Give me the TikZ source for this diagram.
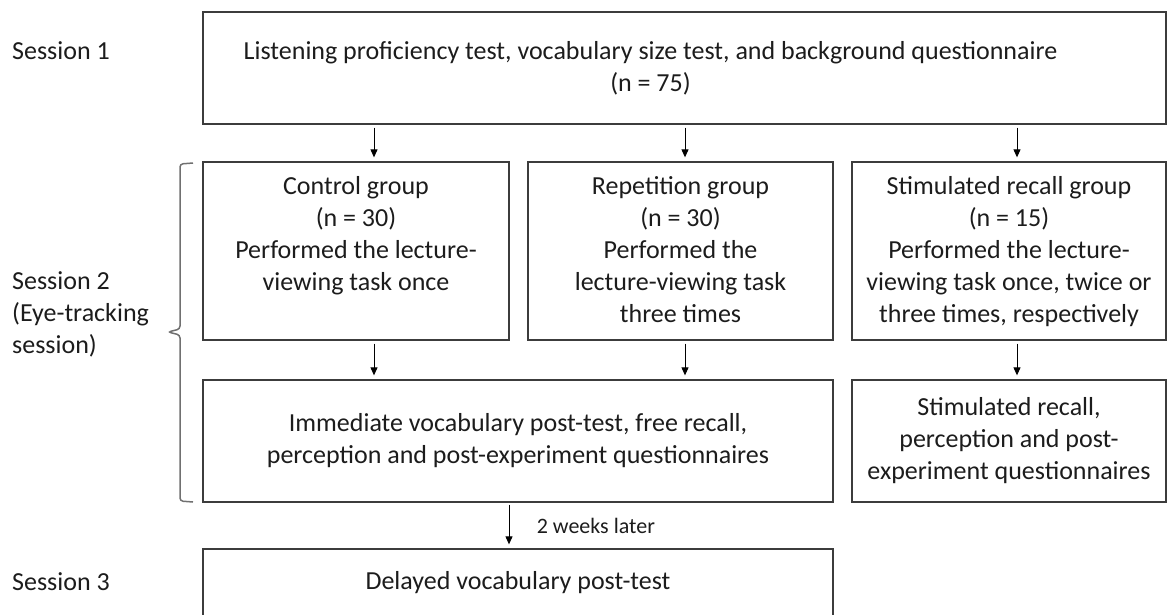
\documentclass[tikz,border=0pt]{standalone}
\usepackage{fontspec}
\setmainfont{Carlito}
\usetikzlibrary{arrows.meta,positioning}
\definecolor{textdark}{HTML}{1C1C1C}
\definecolor{boxline}{HTML}{3C3C3C}
\definecolor{braceline}{HTML}{707070}

\begin{document}
\begin{tikzpicture}[
                x=1pt, y=-1pt,
                font=\fontsize{26}{32}\selectfont,
                text=textdark,
                box/.style={draw=boxline, line width=1.3pt, inner sep=0pt, align=center},
                grouptext/.style={anchor=north, inner sep=0pt, yshift=-15pt, align=center},
                session/.style={align=left, inner sep=0pt},
                arrow/.style={-{Triangle[length=8pt, width=7pt]}, line width=1pt, shorten <=3pt, shorten >=4pt},
                bracestyle/.style={draw=braceline, line width=1.5pt, rounded corners=3pt}
            ]

            \useasboundingbox (0,0) rectangle (1168,614);

            % session labels
            \node[session, anchor=base west] (s1) at (12,59) {Session 1};
            \node[session, anchor=west] (s2) at (12,314) {Session 2\\(Eye-tracking\\session)};
            \node[session, anchor=base west] (s3) at (12,590) {Session 3};

            % boxes
            \node[box, minimum width=963pt, minimum height=112pt,
                  label={[anchor=center, inner sep=0pt, xshift=-34pt, align=center]center:{Listening proficiency test, vocabulary size test, and background questionnaire\\(n = 75)}}] (sess1) at (684.5,68) {};

            \node[box, minimum width=306pt, minimum height=178pt,
                  label={[grouptext]north:{Control group\\(n = 30)\\Performed the lecture-\\viewing task once}}] (ctrl) at (356,251) {};

            \node[box, minimum width=305pt, minimum height=178pt,
                  label={[grouptext]north:{Repetition group\\(n = 30)\\Performed the\\lecture-viewing task\\three times}}] (rep) at (680.5,251) {};

            \node[box, minimum width=314pt, minimum height=178pt,
                  label={[grouptext]north:{Stimulated recall group\\(n = 15)\\Performed the lecture-\\viewing task once, twice or\\three times, respectively}}] (stim) at (1009,251) {};

            \node[box, minimum width=630pt, minimum height=122pt] (immed) at (518,441)
                {Immediate vocabulary post-test, free recall,\\perception and post-experiment questionnaires};

            \node[box, minimum width=314pt, minimum height=122pt] (stimrec) at (1009,441)
                {Stimulated recall,\\perception and post-\\experiment questionnaires};

            \node[box, minimum width=630pt, minimum height=67pt] (delayed) at (518,582.5)
                {Delayed vocabulary post-test};

            % arrow columns
            \coordinate (colA) at (374,0);
            \coordinate (colB) at (685,0);
            \coordinate (colC) at (1017,0);
            \coordinate (colD) at (509,0);

            \draw[arrow] (sess1.south -| colA) -- (ctrl.north -| colA);
            \draw[arrow] (sess1.south -| colB) -- (rep.north -| colB);
            \draw[arrow] (sess1.south -| colC) -- (stim.north -| colC);
            \draw[arrow] (ctrl.south -| colA) -- (immed.north -| colA);
            \draw[arrow] (rep.south -| colB) -- (immed.north -| colB);
            \draw[arrow] (stim.south -| colC) -- (stimrec.north -| colC);
            \draw[arrow, shorten <=2pt] (immed.south -| colD) -- node[right=24pt, font=\fontsize{22}{26}\selectfont] (weeks) {2 weeks later} (delayed.north -| colD);

            % brace for session 2
            \draw[bracestyle] (193,163) -- (180,164) -- (180,329) -- (168,332) -- (180,335) -- (180,501) -- (193,502);

        \end{tikzpicture}
\end{document}
